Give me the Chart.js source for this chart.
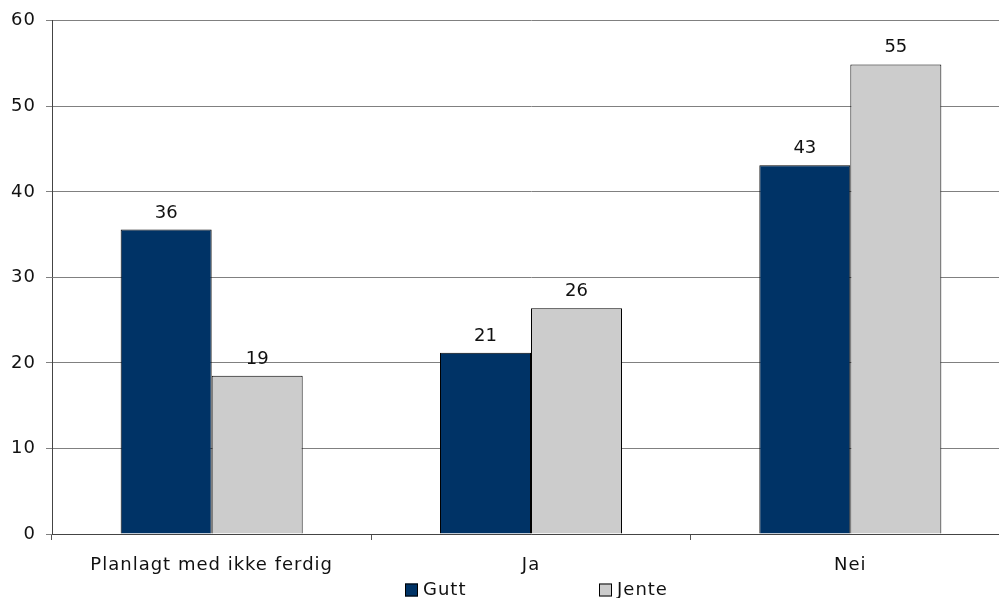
<!DOCTYPE html>
<html>
<head>
<meta charset="utf-8">
<script src="https://cdn.jsdelivr.net/npm/chart.js@4"></script>
<style>
  html, body { margin: 0; padding: 0; background: #fff; overflow: hidden; }
  #wrap { width: 1011px; height: 598px; position: relative; }
</style>
</head>
<body>
<div id="wrap"><canvas id="c"></canvas></div>
<script>
const categories = ['Planlagt med ikke ferdig', 'Ja', 'Nei'];
const seriesNames = ['Gutt', 'Jente'];
const gutt = [35.6, 21.2, 43.1];
const jente = [18.5, 26.4, 54.9];
const yTicks = [0, 10, 20, 30, 40, 50, 60];

const FONT = 'DejaVu Sans, Verdana, sans-serif';
const colors = ['#003366', '#cccccc'];
const TEXT = '#111';

const spacing = {
  id: 'spacing',
  beforeDraw(chart) { chart.ctx.letterSpacing = '1px'; }
};

const valueLabels = {
  id: 'valueLabels',
  afterDatasetsDraw(chart) {
    const ctx = chart.ctx;
    ctx.save();
    ctx.letterSpacing = '0px';
    ctx.font = '18px ' + FONT;
    ctx.fillStyle = TEXT;
    ctx.textAlign = 'center';
    ctx.textBaseline = 'alphabetic';
    chart.data.datasets.forEach((ds, i) => {
      chart.getDatasetMeta(i).data.forEach((bar, j) => {
        ctx.fillText(String(Math.round(ds.data[j])), bar.x, bar.y - 12);
      });
    });
    ctx.restore();
  }
};

const customLegend = {
  id: 'customLegend',
  afterDraw(chart) {
    const ctx = chart.ctx;
    ctx.save();
    ctx.letterSpacing = '1px';
    ctx.font = '18px ' + FONT;
    ctx.textBaseline = 'middle';
    ctx.textAlign = 'left';
    const starts = [405, 599];
    chart.data.datasets.forEach((ds, i) => {
      const x = starts[i], y = 583.5;
      ctx.fillStyle = ds.backgroundColor;
      ctx.fillRect(x, y, 13, 13);
      ctx.strokeStyle = '#000';
      ctx.lineWidth = 1;
      ctx.strokeRect(x + 0.5, y + 0.5, 12, 12);
      ctx.fillStyle = TEXT;
      ctx.fillText(ds.label, x + 18, y + 7);
    });
    ctx.restore();
  }
};

new Chart(document.getElementById('c'), {
  type: 'bar',
  data: {
    labels: categories,
    datasets: [
      { label: seriesNames[0], data: gutt, backgroundColor: colors[0], borderColor: '#000', borderWidth: 1 },
      { label: seriesNames[1], data: jente, backgroundColor: colors[1], borderColor: '#000', borderWidth: 1 }
    ]
  },
  options: {
    responsive: true,
    maintainAspectRatio: false,
    animation: false,
    devicePixelRatio: 1,
    layout: { padding: { top: 19, right: 1, bottom: 0, left: 0 } },
    datasets: { bar: { categoryPercentage: 0.57, barPercentage: 1.0 } },
    plugins: {
      legend: { display: false },
      tooltip: { enabled: false }
    },
    scales: {
      x: {
        offset: true,
        grid: { offset: true, drawOnChartArea: false, drawTicks: true, tickLength: 6, color: '#555' },
        border: { color: '#444', width: 1 },
        ticks: { font: { family: FONT, size: 18 }, color: TEXT, padding: 15, maxRotation: 0 },
        afterFit(scale) { scale.height = 64; }
      },
      y: {
        min: 0, max: 60,
        afterBuildTicks(scale) { scale.ticks = yTicks.map(v => ({ value: v })); },
        grid: { color: '#808080', tickLength: 6, drawTicks: true },
        border: { color: '#444', width: 1 },
        ticks: { font: { family: FONT, size: 18 }, color: TEXT, padding: 10 },
        afterFit(scale) { scale.width = 52; }
      }
    }
  },
  plugins: [spacing, valueLabels, customLegend]
});
</script>
</body>
</html>
